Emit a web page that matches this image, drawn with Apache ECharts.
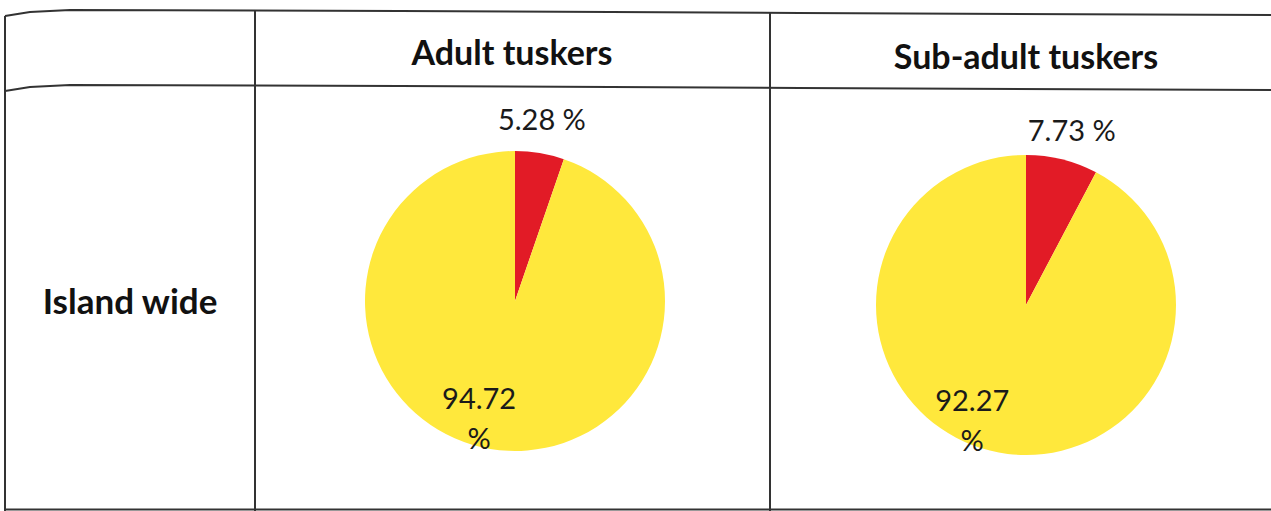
<!DOCTYPE html>
<html>
<head>
<meta charset="utf-8">
<script src="https://cdn.jsdelivr.net/npm/echarts@6/dist/echarts.min.js"></script>
<style>
html,body{margin:0;padding:0;background:#fff;}
#chart{width:1271px;height:511px;}
</style>
</head>
<body>
<div id="chart"></div>
<script>
const sliceNames = ['Tuskers', 'Others'];
const panelTitles = ['Adult tuskers', 'Sub-adult tuskers'];
const rowLabel = 'Island wide';
const adultValues = [5.28, 94.72];
const subAdultValues = [7.73, 92.27];
const sliceColors = ['#e21b26', '#ffe83c'];

const chart = echarts.init(document.getElementById('chart'), null, {renderer: 'svg'});

const labelOffsets = [
  [[14, -106], [-23, 40]],
  [[27, -100], [-35, 39]]
];

function pieSeries(values, center, idx) {
  return {
    type: 'pie',
    center: center,
    radius: 150,
    startAngle: 90,
    clockwise: true,
    silent: true,
    animation: false,
    data: values.map((v, i) => ({
      name: sliceNames[i],
      value: v,
      itemStyle: {color: sliceColors[i]}
    })),
    label: {
      show: true,
      position: 'inside',
      color: '#1a1a1a',
      fontFamily: 'Lato',
      fontSize: 29,
      lineHeight: 40,
      formatter: p => p.dataIndex === 0 ? p.value + ' %' : p.value + '\n%'
    },
    labelLine: {show: false},
    labelLayout: p => ({dx: labelOffsets[idx][p.dataIndex][0], dy: labelOffsets[idx][p.dataIndex][1]})
  };
}

const lineStyle = {stroke: '#333', lineWidth: 2};
const line = (x1, y1, x2, y2) => ({type: 'line', silent: true, shape: {x1, y1, x2, y2}, style: lineStyle});

chart.setOption({
  backgroundColor: '#ffffff',
  series: [
    pieSeries(adultValues, [515, 301], 0),
    pieSeries(subAdultValues, [1026, 305], 1)
  ],
  graphic: [
    {type: 'polyline', silent: true, shape: {points: [[5, 16], [30, 12], [70, 10], [400, 11], [800, 13], [1271, 15]]}, style: {stroke: '#333', lineWidth: 2, fill: null}},
    {type: 'polyline', silent: true, shape: {points: [[5, 91], [30, 87], [70, 85], [400, 86], [800, 88], [1271, 90]]}, style: {stroke: '#333', lineWidth: 2, fill: null}},
    line(5, 509.5, 1271, 509.5),
    line(5, 16, 5, 511),
    line(255, 10, 255, 511),
    line(770, 12, 770, 511),
    {type: 'text', silent: true, style: {text: panelTitles[0], x: 512, y: 51, align: 'center', verticalAlign: 'middle', font: 'bold 34px Lato', fill: '#111'}},
    {type: 'text', silent: true, style: {text: panelTitles[1], x: 1026, y: 55, align: 'center', verticalAlign: 'middle', font: 'bold 34px Lato', fill: '#111'}},
    {type: 'text', silent: true, style: {text: rowLabel, x: 130, y: 300, align: 'center', verticalAlign: 'middle', font: 'bold 35px Lato', fill: '#111'}}
  ]
});
</script>
</body>
</html>
